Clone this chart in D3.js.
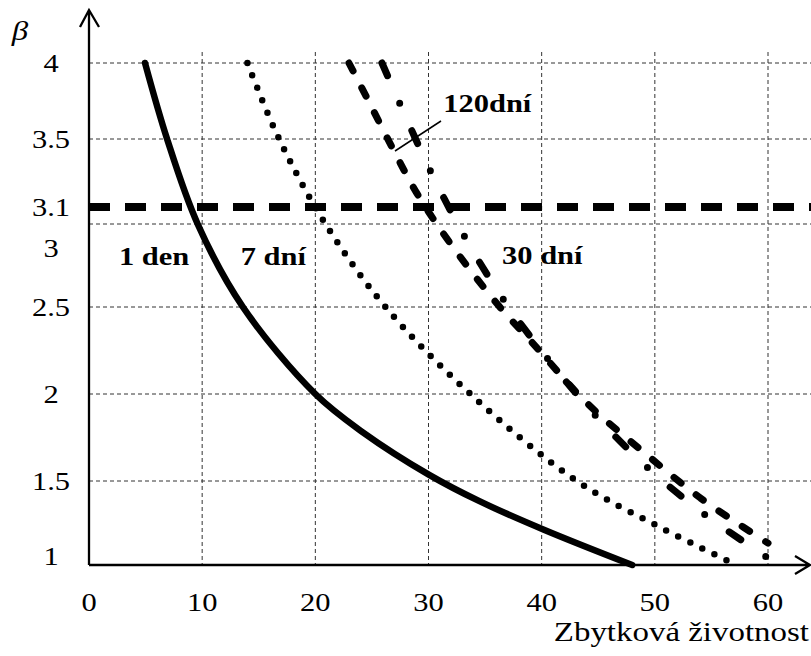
<!DOCTYPE html>
<html>
<head>
<meta charset="utf-8">
<script src="https://cdn.jsdelivr.net/npm/d3@7"></script>
<style>
  body { margin: 0; background: #fff; }
  text { font-family: "Liberation Serif", "Times New Roman", serif; fill: #000; }
</style>
</head>
<body>
<script>
// x tick labels and y tick labels
var xTicks = [0, 10, 20, 30, 40, 50, 60];
var yTicks = [1, 1.5, 2, 2.5, 3, 3.5, 4];
var yLabels = [1, 1.5, 2, 2.5, 3, 3.1, 3.5, 4];
var limitBeta = 3.1;

// curves: [residual life, beta]
var den1 = [[4.95, 4], [6.9, 3.5], [9.6, 3], [13.6, 2.5], [20, 2], [24.2, 1.78],
  [30.1, 1.534], [34.5, 1.38], [40.2, 1.21], [48, 1]];
var dni7 = [[14, 4], [16.8, 3.5], [20.9, 3], [26.2, 2.5], [33.7, 2],
  [43.1, 1.5], [50.3, 1.23], [56.6, 1.02]];
var dni30 = [[22.97, 4], [24.65, 3.757], [26.77, 3.453], [28.98, 3.18], [31.9, 2.886],
  [36.3, 2.5], [39.1, 2.3], [44, 1.948], [49.3, 1.65], [54, 1.4], [57.8, 1.226], [60, 1.13]];
var dni120 = [[25.89, 4], [27.48, 3.73], [30.22, 3.306], [33.22, 2.92], [36.67, 2.54],
  [40.56, 2.2], [44.71, 1.88], [49.39, 1.575], [54.43, 1.3], [59.82, 1.05]];

var w = 811;
var h = 656;
var sx = 1.22; // the original is stretched sideways

var svg = d3.select("body").append("svg")
  .attr("width", w)
  .attr("height", h);

var x = d3.scaleLinear().domain([0, 60]).range([89, 768]);
// the y axis of the original is not quite even, so map it piece by piece
var y = d3.scaleLinear().domain(yTicks).range([565, 481, 394, 307, 224, 139, 63]);

// grid
svg.selectAll("line.hgrid")
  .data(yTicks.slice(1))
  .enter()
  .append("line")
  .attr("class", "hgrid")
  .attr("x1", x(0))
  .attr("x2", w)
  .attr("y1", function(d) { return y(d); })
  .attr("y2", function(d) { return y(d); })
  .attr("stroke", "#333")
  .attr("stroke-width", 1)
  .attr("stroke-dasharray", "4 3");

svg.selectAll("line.vgrid")
  .data(xTicks.slice(1))
  .enter()
  .append("line")
  .attr("class", "vgrid")
  .attr("x1", function(d) { return x(d); })
  .attr("x2", function(d) { return x(d); })
  .attr("y1", 52)
  .attr("y2", y(1))
  .attr("stroke", "#333")
  .attr("stroke-width", 1)
  .attr("stroke-dasharray", "4 3");

// beta = 3.1 limit
svg.append("line")
  .attr("x1", x(0))
  .attr("x2", w)
  .attr("y1", y(limitBeta))
  .attr("y2", y(limitBeta))
  .attr("stroke", "#000")
  .attr("stroke-width", 8)
  .attr("stroke-dasharray", "21 15");

var line = d3.line()
  .x(function(d) { return x(d[0]); })
  .y(function(d) { return y(d[1]); })
  .curve(d3.curveCatmullRom);

function curve(data, width, dash) {
  svg.append("path")
    .attr("d", line(data))
    .attr("fill", "none")
    .attr("stroke", "#000")
    .attr("stroke-width", width)
    .attr("stroke-linecap", "round")
    .attr("stroke-dasharray", dash);
}

curve(den1, 6.5, null);
curve(dni7, 6.5, "0 13.4");
curve(dni30, 7, "9 19");
curve(dni120, 7, "14 30 0 30");

// axes with arrows
svg.append("path")
  .attr("d", "M" + x(0) + "," + y(1) + "V10M80,27L" + x(0) + ",10L99,27")
  .attr("fill", "none")
  .attr("stroke", "#000")
  .attr("stroke-width", 2.3);

svg.append("path")
  .attr("d", "M" + x(0) + "," + y(1) + "H810M795,556L810," + y(1) + "L795,574")
  .attr("fill", "none")
  .attr("stroke", "#000")
  .attr("stroke-width", 2.3);

function label(tx, ty, str, size, anchor, weight, style) {
  svg.append("text")
    .attr("transform", "translate(" + tx + "," + ty + ") scale(" + sx + ",1)")
    .attr("text-anchor", anchor)
    .style("font-size", size + "px")
    .style("font-weight", weight || "normal")
    .style("font-style", style || "normal")
    .text(str);
}

// tick labels
xTicks.forEach(function(d) {
  label(x(d), 611, d, 25, "middle");
});

yLabels.forEach(function(d) {
  var shift = 9;
  if (d === 3) shift = 33;   // pushed below the 3.1 label
  if (d === 1) shift = 0;
  label(51, y(d) + shift, d, 25, "middle");
});

label(20, 40, "β", 27, "middle", "normal", "italic");
label(809, 641, "Zbytková životnost", 27, "end");

// curve names
label(x(2.65), 265, "1 den", 25, "start", "bold");
label(x(13.4), 265, "7 dní", 25, "start", "bold");
label(x(36.5), 264, "30 dní", 25, "start", "bold");
label(x(31.3), 112, "120dní", 25, "start", "bold");

svg.append("line")
  .attr("x1", 441)
  .attr("y1", 121)
  .attr("x2", 395)
  .attr("y2", 151)
  .attr("stroke", "#000")
  .attr("stroke-width", 1.5);
</script>
</body>
</html>
